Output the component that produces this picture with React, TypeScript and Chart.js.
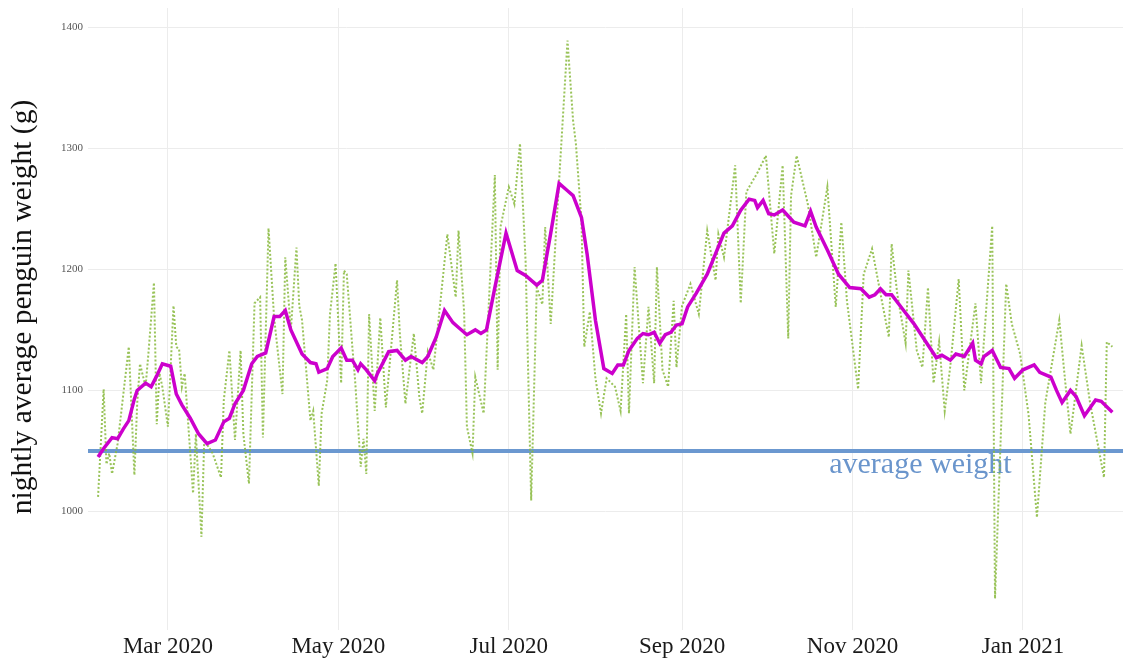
import React, { useEffect, useRef } from 'react';
import { Chart, registerables } from 'chart.js';

Chart.register(...registerables);

// x positions are days since 1 Jan 2020
const rollingDays = [35,37,40,42,44,46,48,49,52,54,56,58,61,63,65,68,71,74,77,80,82,84,87,90,92,95,98,100,102,104,108,111,113,114,117,119,122,124,126,128,129,131,134,135,139,142,145,147,151,153,156,159,162,164,167,170,172,174,177,181,185,188,192,194,197,200,203,205,208,210,213,216,219,221,223,225,228,230,232,234,236,238,240,242,244,246,249,253,256,259,262,265,268,270,271,273,275,277,280,284,288,290,292,296,300,304,308,311,313,315,317,319,324,327,331,335,337,340,342,345,348,349,351,352,355,358,361,363,366,370,372,376,378,380,383,385,388,392,394,398];
const rollingValues = [1045,1052,1061,1060,1068,1075,1093,1100,1106,1103,1112,1122,1120,1097,1088,1077,1064,1056,1059,1074,1077,1089,1100,1122,1128,1131,1161,1161,1166,1150,1130,1123,1122,1115,1118,1128,1135,1125,1125,1117,1122,1117,1108,1114,1132,1133,1125,1128,1123,1128,1144,1166,1156,1152,1146,1150,1147,1150,1185,1230,1199,1195,1187,1191,1230,1271,1265,1261,1243,1213,1158,1118,1114,1121,1121,1133,1143,1147,1146,1148,1139,1146,1148,1154,1155,1169,1180,1196,1213,1230,1236,1249,1258,1257,1251,1257,1246,1245,1249,1239,1236,1248,1235,1216,1196,1185,1184,1177,1179,1184,1179,1179,1164,1155,1141,1127,1129,1125,1130,1128,1139,1125,1122,1128,1133,1119,1118,1110,1117,1121,1115,1111,1100,1090,1100,1095,1079,1092,1091,1082];

const nightlyDays = [35,37,38,39,40,42,46,48,49,50,52,53,55,56,57,58,60,62,63,64,65,66,69,70,72,73,76,79,80,82,84,86,87,89,91,93,94,96,98,101,102,104,106,107,108,111,112,114,115,117,118,120,122,123,124,126,127,129,130,131,132,134,136,138,142,143,145,148,150,151,153,155,160,163,164,166,167,169,170,173,174,177,178,179,182,184,186,188,190,192,194,195,197,199,203,205,206,208,209,211,213,215,217,220,222,224,225,227,230,232,234,235,237,239,241,242,244,247,250,253,256,257,259,263,265,267,271,274,277,280,282,283,285,289,292,296,299,301,303,307,309,312,315,318,319,321,324,325,328,330,332,334,336,338,340,343,345,349,351,352,355,356,360,362,365,368,371,374,379,381,383,387,390,395,396,398];
const nightlyValues = [1012,1101,1039,1048,1031,1056,1136,1030,1089,1122,1103,1130,1189,1072,1114,1103,1070,1170,1136,1134,1103,1114,1015,1064,979,1059,1048,1028,1092,1133,1059,1133,1064,1023,1172,1177,1061,1234,1160,1097,1210,1150,1218,1170,1158,1075,1083,1021,1081,1108,1163,1205,1106,1199,1196,1136,1108,1037,1060,1031,1163,1083,1160,1086,1191,1147,1089,1147,1094,1081,1132,1117,1229,1177,1232,1165,1070,1048,1111,1081,1130,1278,1117,1235,1268,1254,1304,1207,1009,1185,1171,1235,1155,1235,1389,1323,1304,1240,1136,1165,1110,1081,1110,1103,1083,1163,1081,1202,1106,1169,1106,1202,1117,1103,1174,1119,1170,1188,1163,1232,1191,1229,1210,1286,1172,1264,1280,1294,1213,1286,1143,1261,1294,1254,1210,1268,1169,1239,1174,1101,1196,1217,1180,1144,1221,1180,1139,1199,1133,1119,1185,1106,1140,1083,1120,1192,1100,1172,1106,1140,1236,928,1188,1155,1130,1080,995,1090,1158,1110,1064,1137,1090,1028,1140,1136];

const averageWeight = 1050;
const averageLabel = 'average weight';
const averageLabelDay = 329.3;

const yTitle = 'nightly average penguin weight (g)';

const xTickDays = [60, 121, 182, 244, 305, 366];
const xTickLabels = ['Mar 2020', 'May 2020', 'Jul 2020', 'Sep 2020', 'Nov 2020', 'Jan 2021'];
const yTickValues = [1000, 1100, 1200, 1300, 1400];

const X_MIN = 31.4;
const X_MAX = 401.8;
const Y_MIN = 902;
const Y_MAX = 1416;

const SERIF = '"Liberation Serif", "Times New Roman", serif';

const textPlugin = {
  id: 'texts',
  beforeDatasetsDraw(chart: any) {
    const { ctx, scales, chartArea } = chart;
    const x = scales.x;
    const y = scales.y;
    ctx.save();
    ctx.font = `30px ${SERIF}`;
    ctx.fillStyle = '#6a95cc';
    ctx.textAlign = 'center';
    ctx.textBaseline = 'alphabetic';
    ctx.fillText(averageLabel, x.getPixelForValue(averageLabelDay), y.getPixelForValue(averageWeight) + 22.5);
    ctx.restore();

    ctx.save();
    ctx.font = `29.5px ${SERIF}`;
    ctx.fillStyle = '#111';
    ctx.textAlign = 'center';
    ctx.textBaseline = 'middle';
    ctx.translate(23.5, (chartArea.top + chartArea.bottom) / 2 - 12);
    ctx.rotate(-Math.PI / 2);
    ctx.fillText(yTitle, 0, 0);
    ctx.restore();
  },
};

export default function App() {
  const ref = useRef<HTMLCanvasElement | null>(null);

  useEffect(() => {
    if (!ref.current) return;
    const rolling = rollingDays.map((d, i) => ({ x: d, y: rollingValues[i] }));
    const nightly = nightlyDays.map((d, i) => ({ x: d, y: nightlyValues[i] }));
    const avg = [
      { x: X_MIN, y: averageWeight },
      { x: X_MAX, y: averageWeight },
    ];
    const chart = new Chart(ref.current, {
      type: 'line',
      data: {
        datasets: [
          {
            label: 'rolling average',
            data: rolling,
            borderColor: '#cc00cc',
            borderWidth: 3.5,
            pointRadius: 0,
            tension: 0,
          },
          {
            label: 'nightly average',
            data: nightly,
            borderColor: 'rgba(135,185,60,0.85)',
            borderWidth: 2,
            borderDash: [2, 2],
            pointRadius: 0,
            tension: 0,
          },
          {
            label: 'average weight',
            data: avg,
            borderColor: '#6b98d0',
            borderWidth: 4,
            pointRadius: 0,
          },
        ],
      },
      options: {
        animation: false,
        responsive: false,
        layout: { padding: { top: 8, left: 0, right: 0, bottom: 0 } },
        plugins: {
          legend: { display: false },
          tooltip: { enabled: false },
        },
        scales: {
          x: {
            type: 'linear',
            min: X_MIN,
            max: X_MAX,
            afterBuildTicks: (s: any) => {
              s.ticks = xTickDays.map((v) => ({ value: v }));
            },
            afterFit: (s: any) => {
              s.height = 31;
              s.paddingLeft = 0;
              s.paddingRight = 0;
            },
            ticks: {
              autoSkip: false,
              maxRotation: 0,
              padding: 3,
              color: '#1a1a1a',
              font: { family: SERIF, size: 23 },
              callback: (v: any) => {
                const i = xTickDays.indexOf(Number(v));
                return i >= 0 ? xTickLabels[i] : '';
              },
            },
            grid: { color: '#ececec', lineWidth: 1, drawTicks: false },
            border: { display: false },
          },
          y: {
            type: 'linear',
            min: Y_MIN,
            max: Y_MAX,
            afterBuildTicks: (s: any) => {
              s.ticks = yTickValues.map((v) => ({ value: v }));
            },
            afterFit: (s: any) => {
              s.width = 88;
              s.paddingTop = 0;
              s.paddingBottom = 0;
            },
            ticks: {
              padding: 5,
              color: '#555',
              font: { family: SERIF, size: 11 },
              callback: (v: any) => String(v),
            },
            grid: { color: '#ececec', lineWidth: 1, drawTicks: false },
            border: { display: false },
            title: { display: false },
          },
        },
      },
      plugins: [textPlugin],
    } as any);
    return () => chart.destroy();
  }, []);

  return (
    <div style={{ position: 'fixed', left: 0, top: 0, width: 1123, height: 661, background: '#fff' }}>
      <canvas ref={ref} width={1123} height={661} style={{ display: 'block' }} />
    </div>
  );
}
